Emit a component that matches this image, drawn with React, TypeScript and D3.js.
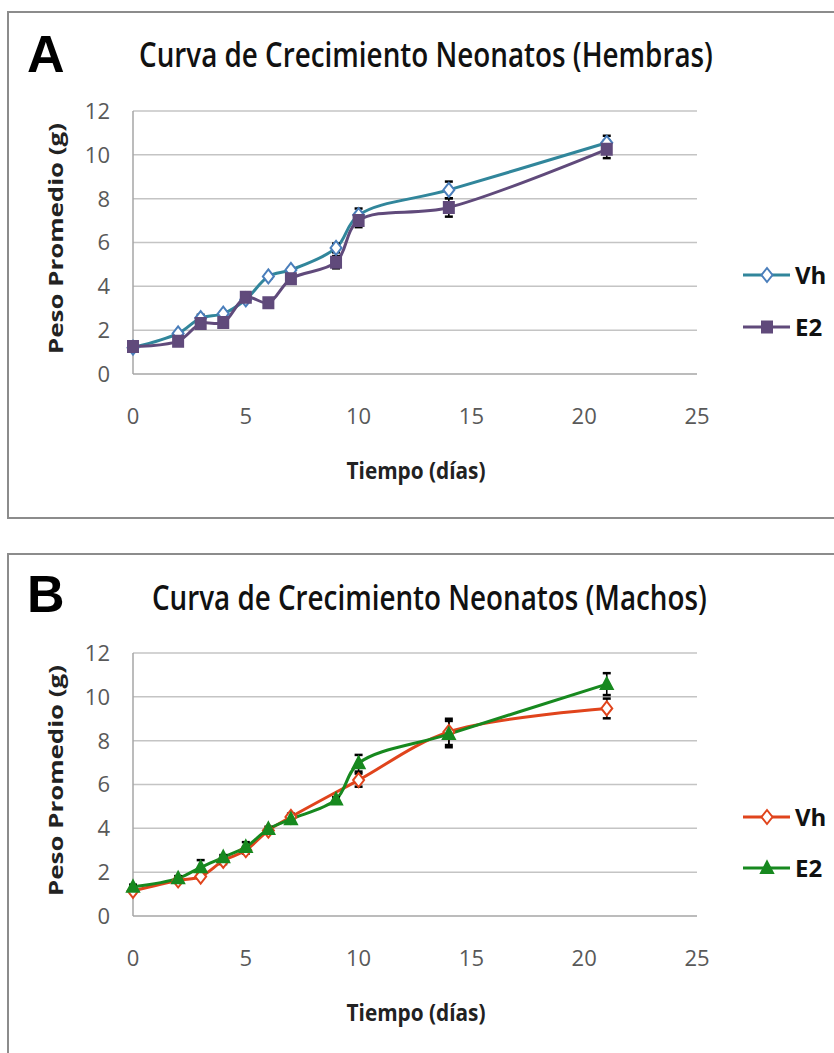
import React from "react";
import * as d3 from "d3";

// days measured
const daysA = [0, 2, 3, 4, 5, 6, 7, 9, 10, 14, 21];
const vhA = [1.2, 1.85, 2.55, 2.75, 3.4, 4.45, 4.75, 5.75, 7.25, 8.4, 10.55];
const vhAErr = [0.1, 0.1, 0.15, 0.1, 0.1, 0.1, 0.1, 0.2, 0.3, 0.38, 0.32];
const e2A = [1.25, 1.5, 2.3, 2.35, 3.5, 3.25, 4.35, 5.1, 7.0, 7.6, 10.25];
const e2AErr = [0.1, 0.1, 0.1, 0.1, 0.1, 0.1, 0.15, 0.28, 0.3, 0.42, 0.4];

const daysVhB = [0, 2, 3, 4, 5, 6, 7, 10, 14, 21];
const vhB = [1.15, 1.62, 1.8, 2.52, 3.0, 3.9, 4.52, 6.2, 8.4, 9.47];
const vhBErr = [0.1, 0.1, 0.1, 0.15, 0.15, 0.1, 0.15, 0.3, 0.6, 0.45];
const daysE2B = [0, 2, 3, 4, 5, 6, 7, 9, 10, 14, 21];
const e2B = [1.33, 1.72, 2.22, 2.68, 3.15, 3.97, 4.42, 5.32, 6.97, 8.3, 10.58];
const e2BErr = [0.1, 0.1, 0.33, 0.1, 0.22, 0.1, 0.1, 0.1, 0.38, 0.6, 0.5];

const xTicks = [0, 5, 10, 15, 20, 25];
const yTicks = [0, 2, 4, 6, 8, 10, 12];
const seriesNames = ["Vh", "E2"];

const FONT = "'Open Sans', 'DejaVu Sans', sans-serif";

const diamond = "M0,-7L5.5,0L0,7L-5.5,0Z";
const square = "M-5,-5.5H5V5.5H-5Z";
const triangle = "M0,-6.5L6,5H-6Z";

// squeeze a text horizontally (along its run) so it takes `w` pixels
const fitText = (sel, x, y, w, rotate = 0) => {
  const natural = sel.node().getComputedTextLength() || w;
  const sx = w / natural;
  sel.attr("transform", `translate(${x},${y}) rotate(${rotate}) scale(${sx},1)`);
};

const App = () => {
  const ref = React.useRef(null);

  React.useEffect(() => {
    const svg = d3.select(ref.current);
    svg.selectAll("*").remove();

    const drawPanel = (p) => {
      const g = svg.append("g");
      // frame
      g.append("rect")
        .attr("x", 8).attr("y", p.top)
        .attr("width", 850).attr("height", p.boxH)
        .attr("fill", "#fff").attr("stroke", "#8c8c8c").attr("stroke-width", 2);

      const x = d3.scaleLinear().domain([0, 25]).range([133, 697]);
      const y = d3.scaleLinear().domain([0, 12]).range([p.y0, p.y0 - 263]);

      // gridlines
      g.append("g").selectAll("line")
        .data(yTicks.filter((t) => t > 0))
        .join("line")
        .attr("x1", x(0)).attr("x2", x(25))
        .attr("y1", (d) => y(d)).attr("y2", (d) => y(d))
        .attr("stroke", "#c4c4c4").attr("stroke-width", 1.5);
      g.append("line")
        .attr("x1", x(0)).attr("x2", x(25)).attr("y1", y(0)).attr("y2", y(0))
        .attr("stroke", "#a6a6a6").attr("stroke-width", 1.5);
      g.append("line")
        .attr("x1", x(0)).attr("x2", x(0)).attr("y1", y(0)).attr("y2", y(12))
        .attr("stroke", "#a6a6a6").attr("stroke-width", 1.5);

      // tick labels
      g.append("g").selectAll("text")
        .data(yTicks).join("text")
        .attr("x", 110).attr("y", (d) => y(d))
        .attr("dy", "0.36em")
        .attr("text-anchor", "end")
        .attr("font-family", FONT).attr("font-size", 22).attr("fill", "#595959")
        .text((d) => d);
      g.append("g").selectAll("text")
        .data(xTicks).join("text")
        .attr("x", (d) => x(d)).attr("y", y(0) + 42)
        .attr("dy", "0.36em")
        .attr("text-anchor", "middle")
        .attr("font-family", FONT).attr("font-size", 22).attr("fill", "#595959")
        .text((d) => d);

      // titles
      g.append("text")
        .attr("x", 27).attr("y", p.letterY)
        .attr("font-family", "'Liberation Sans', Arial, sans-serif")
        .attr("font-weight", "bold").attr("font-size", 52)
        .text(p.letter);
      const title = g.append("text")
        .attr("font-family", FONT).attr("font-weight", 600).attr("font-size", 35)
        .attr("fill", "#111")
        .text(p.title);
      fitText(title, p.titleX, p.titleY, p.titleW);

      const xt = g.append("text")
        .attr("text-anchor", "middle")
        .attr("font-family", FONT).attr("font-weight", "bold").attr("font-size", 24)
        .attr("fill", "#222")
        .text("Tiempo (días)");
      fitText(xt, 416, y(0) + 105, 139);

      const yt = g.append("text")
        .attr("text-anchor", "middle")
        .attr("font-family", FONT).attr("font-weight", "bold").attr("font-size", 20)
        .attr("fill", "#222")
        .text("Peso Promedio (g)");
      fitText(yt, 63, (y(0) + y(12)) / 2 - 4, 231, -90);

      const line = d3.line()
        .x((d) => x(d.day)).y((d) => y(d.v))
        .curve(d3.curveCatmullRom.alpha(0.5));

      p.series.forEach((s) => {
        const pts = s.days.map((day, i) => ({ day, v: s.values[i], e: s.err[i] }));
        g.append("path").datum(pts)
          .attr("d", line).attr("fill", "none")
          .attr("stroke", s.color).attr("stroke-width", 3);
        s.pts = pts;
      });

      // error bars
      p.series.forEach((s) => {
        const eb = g.append("g").attr("stroke", "#000").attr("stroke-width", 1.6);
        s.pts.forEach((d) => {
          eb.append("line")
            .attr("x1", x(d.day)).attr("x2", x(d.day))
            .attr("y1", y(d.v - d.e)).attr("y2", y(d.v + d.e));
          [d.v - d.e, d.v + d.e].forEach((v) => {
            eb.append("line")
              .attr("x1", x(d.day) - 4).attr("x2", x(d.day) + 4)
              .attr("y1", y(v)).attr("y2", y(v))
              .attr("stroke-width", 2.5);
          });
        });
      });

      // markers
      p.series.forEach((s) => {
        g.append("g").selectAll("path")
          .data(s.pts).join("path")
          .attr("transform", (d) => `translate(${x(d.day)},${y(d.v)})`)
          .attr("d", s.marker)
          .attr("fill", s.fill).attr("stroke", s.mstroke).attr("stroke-width", 2);
      });

      // legend
      p.series.forEach((s, i) => {
        const ly = p.legendY[i];
        const lg = g.append("g");
        lg.append("line")
          .attr("x1", 743).attr("x2", 790).attr("y1", ly).attr("y2", ly)
          .attr("stroke", s.color).attr("stroke-width", 3);
        lg.append("path")
          .attr("transform", `translate(767,${ly})`)
          .attr("d", s.marker)
          .attr("fill", s.fill).attr("stroke", s.mstroke).attr("stroke-width", 2);
        lg.append("text")
          .attr("x", 795).attr("y", ly).attr("dy", "0.36em")
          .attr("font-family", FONT).attr("font-weight", "bold").attr("font-size", 24)
          .attr("fill", "#111")
          .text(seriesNames[i]);
      });
    };

    drawPanel({
      top: 12, boxH: 506, y0: 374,
      letter: "A", letterY: 72,
      title: "Curva de Crecimiento Neonatos (Hembras)",
      titleX: 139, titleY: 67, titleW: 574,
      legendY: [275, 327],
      series: [
        { days: daysA, values: vhA, err: vhAErr, color: "#31869b", marker: diamond, fill: "#fff", mstroke: "#4a7ebb" },
        { days: daysA, values: e2A, err: e2AErr, color: "#604a7b", marker: square, fill: "#604a7b", mstroke: "#604a7b" },
      ],
    });

    drawPanel({
      top: 554, boxH: 560, y0: 916,
      letter: "B", letterY: 612,
      title: "Curva de Crecimiento Neonatos (Machos)",
      titleX: 152, titleY: 610, titleW: 555,
      legendY: [817, 868],
      series: [
        { days: daysVhB, values: vhB, err: vhBErr, color: "#e0441c", marker: diamond, fill: "#fff", mstroke: "#e0441c" },
        { days: daysE2B, values: e2B, err: e2BErr, color: "#17891f", marker: triangle, fill: "#17891f", mstroke: "#17891f" },
      ],
    });
  }, []);

  return (
    <svg
      ref={ref}
      width={834}
      height={1053}
      style={{ position: "absolute", left: 0, top: 0, background: "#fff" }}
    ></svg>
  );
};

export default App;
